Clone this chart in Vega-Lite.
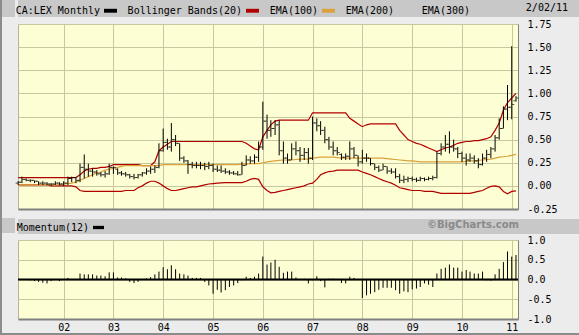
{
  "$schema": "https://vega.github.io/schema/vega-lite/v6.json",
  "background": "#ececec",
  "padding": 0,
  "config": {
    "view": {"stroke": null},
    "legend": {"labelLimit": 0, "padding": 0},
    "title": {"font": "DejaVu Sans Mono", "fontSize": 10, "fontWeight": "normal", "color": "#000000"}
  },
  "datasets": {
    "px": [
      {"d":"2001-02-01","o":0.03,"h":0.05,"l":0.01,"c":0.04,"bu":0.09,"bl":0.01,"e":0.01},
      {"d":"2001-03-01","o":0.04,"h":0.10,"l":0.03,"c":0.07,"bu":0.09,"bl":0.01,"e":0.01},
      {"d":"2001-04-01","o":0.07,"h":0.08,"l":0.05,"c":0.06,"bu":0.09,"bl":0.01,"e":0.01},
      {"d":"2001-05-01","o":0.06,"h":0.07,"l":0.04,"c":0.06,"bu":0.09,"bl":0.01,"e":0.01,"m":-0.02},
      {"d":"2001-06-01","o":0.06,"h":0.06,"l":0.03,"c":0.05,"bu":0.09,"bl":0.01,"e":0.01,"m":-0.04},
      {"d":"2001-07-01","o":0.05,"h":0.05,"l":0.01,"c":0.03,"bu":0.09,"bl":0.01,"e":0.01,"m":-0.06},
      {"d":"2001-08-01","o":0.03,"h":0.05,"l":0.01,"c":0.03,"bu":0.09,"bl":0.01,"e":0.01,"m":-0.08},
      {"d":"2001-09-01","o":0.03,"h":0.04,"l":0.01,"c":0.02,"bu":0.09,"bl":0.01,"e":0.01,"m":-0.10},
      {"d":"2001-10-01","o":0.02,"h":0.03,"l":0.00,"c":0.02,"bu":0.09,"bl":0.00,"e":0.01,"m":-0.04},
      {"d":"2001-11-01","o":0.02,"h":0.05,"l":0.01,"c":0.03,"bu":0.09,"bl":0.00,"e":0.01,"m":0.0},
      {"d":"2001-12-01","o":0.03,"h":0.04,"l":0.01,"c":0.02,"bu":0.09,"bl":0.00,"e":0.015,"m":-0.04},
      {"d":"2002-01-01","o":0.02,"h":0.05,"l":0.00,"c":0.03,"bu":0.09,"bl":0.00,"e":0.02,"m":0.0},
      {"d":"2002-02-01","o":0.03,"h":0.10,"l":0.01,"c":0.08,"bu":0.09,"bl":0.00,"e":0.025,"m":0.04},
      {"d":"2002-03-01","o":0.08,"h":0.10,"l":0.04,"c":0.09,"bu":0.09,"bl":0.00,"e":0.03,"m":0.01},
      {"d":"2002-04-01","o":0.09,"h":0.09,"l":0.03,"c":0.06,"bu":0.09,"bl":-0.01,"e":0.04,"m":0.01},
      {"d":"2002-05-01","o":0.06,"h":0.24,"l":0.04,"c":0.20,"bu":0.12,"bl":-0.05,"e":0.06,"m":0.15},
      {"d":"2002-06-01","o":0.20,"h":0.34,"l":0.08,"c":0.18,"bu":0.16,"bl":-0.06,"e":0.08,"m":0.13},
      {"d":"2002-07-01","o":0.18,"h":0.24,"l":0.10,"c":0.16,"bu":0.18,"bl":-0.06,"e":0.10,"m":0.13},
      {"d":"2002-08-01","o":0.16,"h":0.19,"l":0.10,"c":0.15,"bu":0.19,"bl":-0.06,"e":0.12,"m":0.13},
      {"d":"2002-09-01","o":0.15,"h":0.17,"l":0.11,"c":0.13,"bu":0.19,"bl":-0.06,"e":0.14,"m":0.10},
      {"d":"2002-10-01","o":0.13,"h":0.15,"l":0.10,"c":0.12,"bu":0.20,"bl":-0.06,"e":0.15,"m":0.10},
      {"d":"2002-11-01","o":0.12,"h":0.16,"l":0.09,"c":0.13,"bu":0.20,"bl":-0.06,"e":0.17,"m":0.08},
      {"d":"2002-12-01","o":0.13,"h":0.24,"l":0.12,"c":0.20,"bu":0.21,"bl":-0.06,"e":0.18,"m":0.18},
      {"d":"2003-01-01","o":0.20,"h":0.21,"l":0.13,"c":0.20,"bu":0.23,"bl":-0.06,"e":0.19,"m":0.18},
      {"d":"2003-02-01","o":0.18,"h":0.19,"l":0.12,"c":0.14,"bu":0.23,"bl":-0.06,"e":0.20,"m":0.05},
      {"d":"2003-03-01","o":0.14,"h":0.16,"l":0.11,"c":0.13,"bu":0.23,"bl":-0.06,"e":0.21,"m":0.05},
      {"d":"2003-04-01","o":0.13,"h":0.15,"l":0.10,"c":0.12,"bu":0.23,"bl":-0.05,"e":0.22,"m":0.03},
      {"d":"2003-05-01","o":0.12,"h":0.13,"l":0.08,"c":0.10,"bu":0.23,"bl":-0.05,"e":0.22,"m":-0.06},
      {"d":"2003-06-01","o":0.10,"h":0.13,"l":0.07,"c":0.09,"bu":0.23,"bl":-0.05,"e":0.22,"m":-0.09},
      {"d":"2003-07-01","o":0.09,"h":0.13,"l":0.08,"c":0.12,"bu":0.23,"bl":-0.02,"e":0.22,"m":-0.06},
      {"d":"2003-08-01","o":0.12,"h":0.15,"l":0.10,"c":0.14,"bu":0.22,"bl":0.00,"e":0.22,"m":0.0},
      {"d":"2003-09-01","o":0.14,"h":0.19,"l":0.12,"c":0.16,"bu":0.22,"bl":0.03,"e":0.22,"m":0.03},
      {"d":"2003-10-01","o":0.16,"h":0.21,"l":0.13,"c":0.18,"bu":0.22,"bl":0.05,"e":0.22,"m":0.06},
      {"d":"2003-11-01","o":0.18,"h":0.22,"l":0.14,"c":0.20,"bu":0.26,"bl":0.05,"e":0.22,"m":0.13},
      {"d":"2003-12-01","o":0.20,"h":0.46,"l":0.19,"c":0.38,"bu":0.38,"bl":0.03,"e":0.22,"m":0.20},
      {"d":"2004-01-01","o":0.38,"h":0.62,"l":0.37,"c":0.47,"bu":0.42,"bl":0.00,"e":0.23,"m":0.31},
      {"d":"2004-02-01","o":0.47,"h":0.51,"l":0.39,"c":0.42,"bu":0.45,"bl":-0.03,"e":0.23,"m":0.26},
      {"d":"2004-03-01","o":0.42,"h":0.68,"l":0.37,"c":0.50,"bu":0.48,"bl":-0.05,"e":0.23,"m":0.36},
      {"d":"2004-04-01","o":0.50,"h":0.55,"l":0.43,"c":0.46,"bu":0.48,"bl":-0.05,"e":0.23,"m":0.26},
      {"d":"2004-05-01","o":0.46,"h":0.46,"l":0.27,"c":0.30,"bu":0.48,"bl":-0.04,"e":0.23,"m":0.15},
      {"d":"2004-06-01","o":0.30,"h":0.32,"l":0.25,"c":0.27,"bu":0.48,"bl":-0.03,"e":0.23,"m":0.13},
      {"d":"2004-07-01","o":0.27,"h":0.28,"l":0.13,"c":0.23,"bu":0.48,"bl":-0.02,"e":0.23,"m":0.10},
      {"d":"2004-08-01","o":0.23,"h":0.26,"l":0.19,"c":0.22,"bu":0.48,"bl":-0.01,"e":0.23,"m":0.04},
      {"d":"2004-09-01","o":0.22,"h":0.26,"l":0.19,"c":0.22,"bu":0.48,"bl":-0.01,"e":0.23,"m":0.04},
      {"d":"2004-10-01","o":0.22,"h":0.26,"l":0.18,"c":0.22,"bu":0.48,"bl":0.00,"e":0.23,"m":0.04},
      {"d":"2004-11-01","o":0.22,"h":0.25,"l":0.17,"c":0.21,"bu":0.48,"bl":0.01,"e":0.23,"m":-0.06},
      {"d":"2004-12-01","o":0.21,"h":0.26,"l":0.18,"c":0.22,"bu":0.48,"bl":0.02,"e":0.23,"m":-0.15},
      {"d":"2005-01-01","o":0.22,"h":0.24,"l":0.15,"c":0.18,"bu":0.48,"bl":0.025,"e":0.23,"m":-0.36},
      {"d":"2005-02-01","o":0.18,"h":0.22,"l":0.15,"c":0.17,"bu":0.48,"bl":0.03,"e":0.23,"m":-0.26},
      {"d":"2005-03-01","o":0.17,"h":0.22,"l":0.14,"c":0.16,"bu":0.48,"bl":0.033,"e":0.23,"m":-0.33},
      {"d":"2005-04-01","o":0.16,"h":0.19,"l":0.13,"c":0.15,"bu":0.48,"bl":0.036,"e":0.23,"m":-0.27},
      {"d":"2005-05-01","o":0.15,"h":0.17,"l":0.12,"c":0.14,"bu":0.48,"bl":0.036,"e":0.23,"m":-0.19},
      {"d":"2005-06-01","o":0.14,"h":0.16,"l":0.12,"c":0.13,"bu":0.48,"bl":0.036,"e":0.23,"m":-0.15},
      {"d":"2005-07-01","o":0.13,"h":0.16,"l":0.11,"c":0.12,"bu":0.48,"bl":0.036,"e":0.23,"m":-0.09},
      {"d":"2005-08-01","o":0.12,"h":0.26,"l":0.12,"c":0.22,"bu":0.48,"bl":0.036,"e":0.235,"m":-0.02},
      {"d":"2005-09-01","o":0.22,"h":0.33,"l":0.22,"c":0.28,"bu":0.46,"bl":0.05,"e":0.235,"m":0.07},
      {"d":"2005-10-01","o":0.28,"h":0.32,"l":0.24,"c":0.27,"bu":0.43,"bl":0.07,"e":0.24,"m":0.04},
      {"d":"2005-11-01","o":0.27,"h":0.34,"l":0.24,"c":0.31,"bu":0.40,"bl":0.08,"e":0.24,"m":0.07},
      {"d":"2005-12-01","o":0.31,"h":0.48,"l":0.26,"c":0.42,"bu":0.39,"bl":0.07,"e":0.24,"m":0.15},
      {"d":"2006-01-01","o":0.42,"h":0.91,"l":0.39,"c":0.70,"bu":0.53,"bl":-0.01,"e":0.25,"m":0.58},
      {"d":"2006-02-01","o":0.70,"h":0.77,"l":0.51,"c":0.60,"bu":0.60,"bl":-0.05,"e":0.26,"m":0.38},
      {"d":"2006-03-01","o":0.60,"h":0.71,"l":0.53,"c":0.62,"bu":0.66,"bl":-0.075,"e":0.265,"m":0.43},
      {"d":"2006-04-01","o":0.62,"h":0.71,"l":0.55,"c":0.66,"bu":0.70,"bl":-0.07,"e":0.27,"m":0.50},
      {"d":"2006-05-01","o":0.66,"h":0.71,"l":0.33,"c":0.38,"bu":0.71,"bl":-0.06,"e":0.275,"m":0.32},
      {"d":"2006-06-01","o":0.38,"h":0.48,"l":0.24,"c":0.30,"bu":0.71,"bl":-0.05,"e":0.28,"m":0.17},
      {"d":"2006-07-01","o":0.30,"h":0.35,"l":0.24,"c":0.28,"bu":0.71,"bl":-0.04,"e":0.28,"m":0.20},
      {"d":"2006-08-01","o":0.28,"h":0.46,"l":0.28,"c":0.40,"bu":0.71,"bl":-0.03,"e":0.28,"m":0.20},
      {"d":"2006-09-01","o":0.40,"h":0.48,"l":0.33,"c":0.38,"bu":0.71,"bl":-0.02,"e":0.285,"m":0.05},
      {"d":"2006-10-01","o":0.38,"h":0.42,"l":0.26,"c":0.33,"bu":0.71,"bl":-0.01,"e":0.29,"m":0.01},
      {"d":"2006-11-01","o":0.33,"h":0.41,"l":0.28,"c":0.36,"bu":0.71,"bl":0.00,"e":0.29,"m":0.02},
      {"d":"2006-12-01","o":0.36,"h":0.41,"l":0.24,"c":0.30,"bu":0.71,"bl":0.02,"e":0.29,"m":-0.10},
      {"d":"2007-01-01","o":0.30,"h":0.75,"l":0.28,"c":0.68,"bu":0.79,"bl":0.03,"e":0.30,"m":-0.02},
      {"d":"2007-02-01","o":0.68,"h":0.73,"l":0.59,"c":0.65,"bu":0.79,"bl":0.07,"e":0.305,"m":0.08},
      {"d":"2007-03-01","o":0.65,"h":0.70,"l":0.55,"c":0.60,"bu":0.79,"bl":0.12,"e":0.31,"m":-0.04},
      {"d":"2007-04-01","o":0.60,"h":0.64,"l":0.46,"c":0.50,"bu":0.79,"bl":0.14,"e":0.31,"m":-0.20},
      {"d":"2007-05-01","o":0.50,"h":0.53,"l":0.39,"c":0.42,"bu":0.79,"bl":0.155,"e":0.31,"m":0.02},
      {"d":"2007-06-01","o":0.42,"h":0.48,"l":0.33,"c":0.38,"bu":0.79,"bl":0.16,"e":0.31,"m":0.02},
      {"d":"2007-07-01","o":0.38,"h":0.42,"l":0.33,"c":0.36,"bu":0.79,"bl":0.17,"e":0.305,"m":0.01},
      {"d":"2007-08-01","o":0.34,"h":0.35,"l":0.28,"c":0.31,"bu":0.79,"bl":0.17,"e":0.30,"m":-0.09},
      {"d":"2007-09-01","o":0.31,"h":0.35,"l":0.28,"c":0.32,"bu":0.79,"bl":0.17,"e":0.30,"m":-0.10},
      {"d":"2007-10-01","o":0.32,"h":0.48,"l":0.28,"c":0.40,"bu":0.73,"bl":0.17,"e":0.30,"m":0.07},
      {"d":"2007-11-01","o":0.40,"h":0.42,"l":0.30,"c":0.33,"bu":0.70,"bl":0.17,"e":0.30,"m":0.04},
      {"d":"2007-12-01","o":0.33,"h":0.33,"l":0.21,"c":0.26,"bu":0.67,"bl":0.17,"e":0.30,"m":0.01},
      {"d":"2008-01-01","o":0.26,"h":0.39,"l":0.24,"c":0.30,"bu":0.64,"bl":0.15,"e":0.30,"m":-0.47},
      {"d":"2008-02-01","o":0.30,"h":0.35,"l":0.26,"c":0.30,"bu":0.66,"bl":0.135,"e":0.30,"m":-0.40},
      {"d":"2008-03-01","o":0.30,"h":0.30,"l":0.22,"c":0.24,"bu":0.67,"bl":0.12,"e":0.30,"m":-0.36},
      {"d":"2008-04-01","o":0.24,"h":0.24,"l":0.17,"c":0.20,"bu":0.67,"bl":0.10,"e":0.30,"m":-0.32},
      {"d":"2008-05-01","o":0.20,"h":0.22,"l":0.15,"c":0.17,"bu":0.67,"bl":0.08,"e":0.30,"m":-0.26},
      {"d":"2008-06-01","o":0.17,"h":0.24,"l":0.17,"c":0.21,"bu":0.67,"bl":0.06,"e":0.30,"m":-0.21},
      {"d":"2008-07-01","o":0.21,"h":0.21,"l":0.13,"c":0.16,"bu":0.67,"bl":0.045,"e":0.295,"m":-0.21},
      {"d":"2008-08-01","o":0.16,"h":0.19,"l":0.13,"c":0.15,"bu":0.67,"bl":0.03,"e":0.29,"m":-0.21},
      {"d":"2008-09-01","o":0.15,"h":0.19,"l":0.08,"c":0.10,"bu":0.67,"bl":0.007,"e":0.285,"m":-0.27},
      {"d":"2008-10-01","o":0.10,"h":0.13,"l":0.03,"c":0.06,"bu":0.60,"bl":-0.02,"e":0.28,"m":-0.36},
      {"d":"2008-11-01","o":0.06,"h":0.11,"l":0.03,"c":0.07,"bu":0.55,"bl":-0.03,"e":0.275,"m":-0.30},
      {"d":"2008-12-01","o":0.07,"h":0.10,"l":0.04,"c":0.08,"bu":0.50,"bl":-0.04,"e":0.27,"m":-0.32},
      {"d":"2009-01-01","o":0.08,"h":0.10,"l":0.05,"c":0.07,"bu":0.48,"bl":-0.05,"e":0.27,"m":-0.25},
      {"d":"2009-02-01","o":0.07,"h":0.09,"l":0.04,"c":0.06,"bu":0.46,"bl":-0.05,"e":0.265,"m":-0.23},
      {"d":"2009-03-01","o":0.06,"h":0.10,"l":0.05,"c":0.08,"bu":0.45,"bl":-0.05,"e":0.26,"m":-0.19},
      {"d":"2009-04-01","o":0.08,"h":0.09,"l":0.05,"c":0.07,"bu":0.43,"bl":-0.06,"e":0.26,"m":-0.10},
      {"d":"2009-05-01","o":0.07,"h":0.10,"l":0.06,"c":0.08,"bu":0.41,"bl":-0.06,"e":0.26,"m":-0.13},
      {"d":"2009-06-01","o":0.08,"h":0.11,"l":0.06,"c":0.09,"bu":0.39,"bl":-0.06,"e":0.26,"m":-0.19},
      {"d":"2009-07-01","o":0.09,"h":0.37,"l":0.08,"c":0.35,"bu":0.37,"bl":-0.07,"e":0.26,"m":0.15},
      {"d":"2009-08-01","o":0.35,"h":0.46,"l":0.33,"c":0.42,"bu":0.39,"bl":-0.08,"e":0.26,"m":0.27},
      {"d":"2009-09-01","o":0.42,"h":0.55,"l":0.37,"c":0.45,"bu":0.41,"bl":-0.08,"e":0.26,"m":0.30},
      {"d":"2009-10-01","o":0.45,"h":0.59,"l":0.35,"c":0.42,"bu":0.42,"bl":-0.08,"e":0.26,"m":0.38},
      {"d":"2009-11-01","o":0.42,"h":0.50,"l":0.37,"c":0.40,"bu":0.44,"bl":-0.08,"e":0.26,"m":0.30},
      {"d":"2009-12-01","o":0.40,"h":0.42,"l":0.30,"c":0.35,"bu":0.46,"bl":-0.08,"e":0.26,"m":0.30},
      {"d":"2010-01-01","o":0.35,"h":0.37,"l":0.26,"c":0.30,"bu":0.47,"bl":-0.08,"e":0.26,"m":0.20},
      {"d":"2010-02-01","o":0.30,"h":0.35,"l":0.22,"c":0.28,"bu":0.48,"bl":-0.08,"e":0.265,"m":0.24},
      {"d":"2010-03-01","o":0.28,"h":0.35,"l":0.26,"c":0.30,"bu":0.48,"bl":-0.08,"e":0.27,"m":0.20},
      {"d":"2010-04-01","o":0.30,"h":0.33,"l":0.24,"c":0.27,"bu":0.49,"bl":-0.07,"e":0.27,"m":0.15},
      {"d":"2010-05-01","o":0.27,"h":0.30,"l":0.19,"c":0.23,"bu":0.49,"bl":-0.06,"e":0.275,"m":0.15},
      {"d":"2010-06-01","o":0.23,"h":0.35,"l":0.22,"c":0.30,"bu":0.50,"bl":-0.05,"e":0.28,"m":0.20},
      {"d":"2010-07-01","o":0.30,"h":0.39,"l":0.26,"c":0.34,"bu":0.51,"bl":-0.025,"e":0.285,"m":-0.02},
      {"d":"2010-08-01","o":0.34,"h":0.42,"l":0.30,"c":0.40,"bu":0.53,"bl":-0.005,"e":0.29,"m":-0.03},
      {"d":"2010-09-01","o":0.40,"h":0.55,"l":0.37,"c":0.52,"bu":0.60,"bl":0.00,"e":0.30,"m":0.13},
      {"d":"2010-10-01","o":0.52,"h":0.73,"l":0.50,"c":0.62,"bu":0.68,"bl":-0.01,"e":0.31,"m":0.27},
      {"d":"2010-11-01","o":0.62,"h":0.86,"l":0.62,"c":0.83,"bu":0.82,"bl":-0.06,"e":0.315,"m":0.44},
      {"d":"2010-12-01","o":0.83,"h":1.09,"l":0.71,"c":0.85,"bu":0.90,"bl":-0.085,"e":0.32,"m":0.71},
      {"d":"2011-01-01","o":0.85,"h":1.51,"l":0.72,"c":0.88,"bu":0.95,"bl":-0.06,"e":0.33,"m":0.58},
      {"d":"2011-02-01","o":0.92,"h":0.97,"l":0.91,"c":0.95,"bu":1.00,"bl":-0.055,"e":0.34,"m":0.62}
    ]
  },
  "resolve": {"scale": {"color": "independent"}, "legend": {"color": "independent"}},
  "spacing": 0,
  "vconcat": [
    {
      "spacing": 0,
      "resolve": {"scale": {"color": "independent"}, "legend": {"color": "independent"}},
      "hconcat": [
        {"width": 2, "height": 333, "view": {"fill": "#8c8c8c", "stroke": null}, "data": {"values": []}, "mark": "rect"},
        {
          "spacing": 201,
          "vconcat": [
            {"width": 13, "height": 17, "view": {"fill": "#c8c8c8", "stroke": null}, "data": {"values": []}, "mark": "rect"},
            {"width": 13, "height": 15, "view": {"fill": "#c8c8c8", "stroke": null}, "data": {"values": []}, "mark": "rect"}
          ]
        },
        {
          "spacing": 4,
          "resolve": {"scale": {"color": "independent"}, "legend": {"color": "independent"}},
          "vconcat": [
            {
              "spacing": 1,
              "resolve": {"scale": {"color": "independent"}, "legend": {"color": "independent"}},
              "vconcat": [
                {
                  "width": 562,
                  "height": 17,
                  "view": {"fill": "#c8c8c8", "stroke": null},
                  "title": {"text": "2/02/11", "anchor": "end", "offset": -13, "dx": -12},
                  "data": {"values": [{"series": "CA:LEX Monthly"}, {"series": "Bollinger Bands(20)"}, {"series": "EMA(100)"}, {"series": "EMA(200)"}, {"series": "EMA(300)"}]},
                  "mark": {"type": "text", "text": ""},
                  "encoding": {
                    "color": {
                      "field": "series", "type": "nominal", "sort": null,
                      "scale": {"domain": ["CA:LEX Monthly", "Bollinger Bands(20)", "EMA(100)", "EMA(200)", "EMA(300)"], "range": ["#000000", "#b00000", "#d9a23a", "transparent", "transparent"]},
                      "legend": {"orient": "none", "legendX": 86, "legendY": 4, "direction": "horizontal", "columns": 5, "title": null,
                        "symbolType": "M-1,-0.3H1V0.3H-1Z", "symbolSize": 169, "symbolStrokeWidth": 0,
                        "labelFont": "DejaVu Sans Mono", "labelFontSize": 10, "labelColor": "#000000",
                        "labelAlign": "right", "labelOffset": -17, "columnPadding": 10}
                    }
                  }
                },
                {
                  "width": 500,
                  "height": 185,
                  "view": {"fill": "#fefed4", "stroke": "#b4b494"},
                  "data": {"name": "px"},
                  "resolve": {"axis": {"y": "independent"}},
                  "encoding": {
                    "x": {"field": "d", "type": "temporal",
                      "scale": {"domain": [{"year": 2001, "month": 1, "date": 31}, {"year": 2011, "month": 2, "date": 16}]},
                      "axis": {"title": null, "labels": false, "ticks": false, "grid": true, "gridColor": "#c8c8a0", "tickCount": {"interval": "year", "step": 1}, "domain": true, "domainColor": "#808080", "domainWidth": 2}}
                  },
                  "layer": [
                    {
                      "mark": {"type": "line", "color": "#b00000", "strokeWidth": 1.2},
                      "encoding": {"y": {"field": "bu", "type": "quantitative", "scale": {"domain": [-0.25, 1.75], "nice": false, "zero": false}, "axis": null}}
                    },
                    {
                      "mark": {"type": "line", "color": "#b00000", "strokeWidth": 1.2},
                      "encoding": {"y": {"field": "bl", "type": "quantitative", "axis": null}}
                    },
                    {
                      "mark": {"type": "line", "color": "#d9a23a", "strokeWidth": 1.2},
                      "encoding": {"y": {"field": "e", "type": "quantitative", "axis": null}}
                    },
                    {
                      "mark": {"type": "rule", "color": "#000000", "strokeWidth": 1},
                      "encoding": {
                        "y": {"field": "l", "type": "quantitative",
                          "axis": {"orient": "right", "title": null, "values": [-0.25, 0, 0.25, 0.5, 0.75, 1, 1.25, 1.5, 1.75],
                            "labelExpr": "datum.value < 0 ? '-' + format(-datum.value, '.2f') : format(datum.value, '.2f')",
                            "ticks": false, "labelPadding": 9, "labelFont": "DejaVu Sans Mono", "labelFontSize": 10, "labelColor": "#000000",
                            "grid": true, "gridColor": "#c8c8a0", "domain": true, "domainColor": "#808080"}},
                        "y2": {"field": "h"}
                      }
                    },
                    {
                      "mark": {"type": "tick", "orient": "horizontal", "color": "#000000", "size": 2, "thickness": 1, "xOffset": -1.5},
                      "encoding": {"y": {"field": "o", "type": "quantitative", "axis": null}}
                    },
                    {
                      "mark": {"type": "tick", "orient": "horizontal", "color": "#000000", "size": 2, "thickness": 1, "xOffset": 1.5},
                      "encoding": {"y": {"field": "c", "type": "quantitative", "axis": null}}
                    }
                  ]
                }
              ]
            },
            {
              "spacing": 0,
              "resolve": {"scale": {"color": "independent"}, "legend": {"color": "independent"}},
              "vconcat": [
                {
                  "width": 562,
                  "height": 15,
                  "view": {"fill": "#c8c8c8", "stroke": null},
                  "title": {"text": "©BigCharts.com", "anchor": "end", "offset": -11, "dx": -61, "font": "DejaVu Sans", "fontSize": 10, "fontWeight": "bold", "color": "#8a8a8a"},
                  "data": {"values": [{"series": "Momentum(12)"}]},
                  "mark": {"type": "text", "text": ""},
                  "encoding": {
                    "color": {
                      "field": "series", "type": "nominal",
                      "scale": {"domain": ["Momentum(12)"], "range": ["#000000"]},
                      "legend": {"orient": "none", "legendX": 75, "legendY": 3, "direction": "horizontal", "title": null,
                        "symbolType": "M-1,-0.3H1V0.3H-1Z", "symbolSize": 121, "symbolStrokeWidth": 0,
                        "labelFont": "DejaVu Sans Mono", "labelFontSize": 10, "labelColor": "#000000",
                        "labelAlign": "right", "labelOffset": -15}
                    }
                  }
                },
                {
                  "width": 500,
                  "height": 79,
                  "view": {"fill": "#fefed4", "stroke": "#b4b494"},
                  "resolve": {"axis": {"y": "independent"}},
                  "layer": [
                    {
                      "data": {"name": "px"},
                      "transform": [{"filter": "isValid(datum.m)"}],
                      "mark": {"type": "rule", "color": "#000000", "strokeWidth": 1},
                      "encoding": {
                        "x": {"field": "d", "type": "temporal",
                          "scale": {"domain": [{"year": 2001, "month": 1, "date": 31}, {"year": 2011, "month": 2, "date": 16}]},
                          "axis": {"title": null, "format": "%y", "labelFont": "DejaVu Sans Mono", "labelFontSize": 10, "labelColor": "#000000", "labelPadding": 3, "labelFlush": false,
                            "ticks": false, "grid": true, "gridColor": "#c8c8a0", "tickCount": {"interval": "year", "step": 1}, "domain": true, "domainColor": "#808080", "domainWidth": 2}},
                        "y": {"field": "m", "type": "quantitative", "scale": {"domain": [-1, 1], "nice": false},
                          "axis": {"orient": "right", "title": null, "values": [-1, -0.5, 0, 0.5, 1],
                            "labelExpr": "datum.value < 0 ? '-' + format(-datum.value, '.1f') : format(datum.value, '.1f')",
                            "ticks": false, "labelPadding": 9, "labelFont": "DejaVu Sans Mono", "labelFontSize": 10, "labelColor": "#000000",
                            "grid": true, "gridColor": "#c8c8a0", "domain": true, "domainColor": "#808080"}},
                        "y2": {"datum": 0}
                      }
                    },
                    {
                      "data": {"values": [{"z": 0}]},
                      "mark": {"type": "rule", "color": "#000000", "strokeWidth": 2},
                      "encoding": {"y": {"field": "z", "type": "quantitative", "axis": null}}
                    }
                  ]
                }
              ]
            }
          ]
        },
        {"width": 2, "height": 333, "view": {"fill": "#8c8c8c", "stroke": null}, "data": {"values": []}, "mark": "rect"}
      ]
    },
    {"width": 579, "height": 2, "view": {"fill": "#8c8c8c", "stroke": null}, "data": {"values": []}, "mark": "rect"}
  ]
}
